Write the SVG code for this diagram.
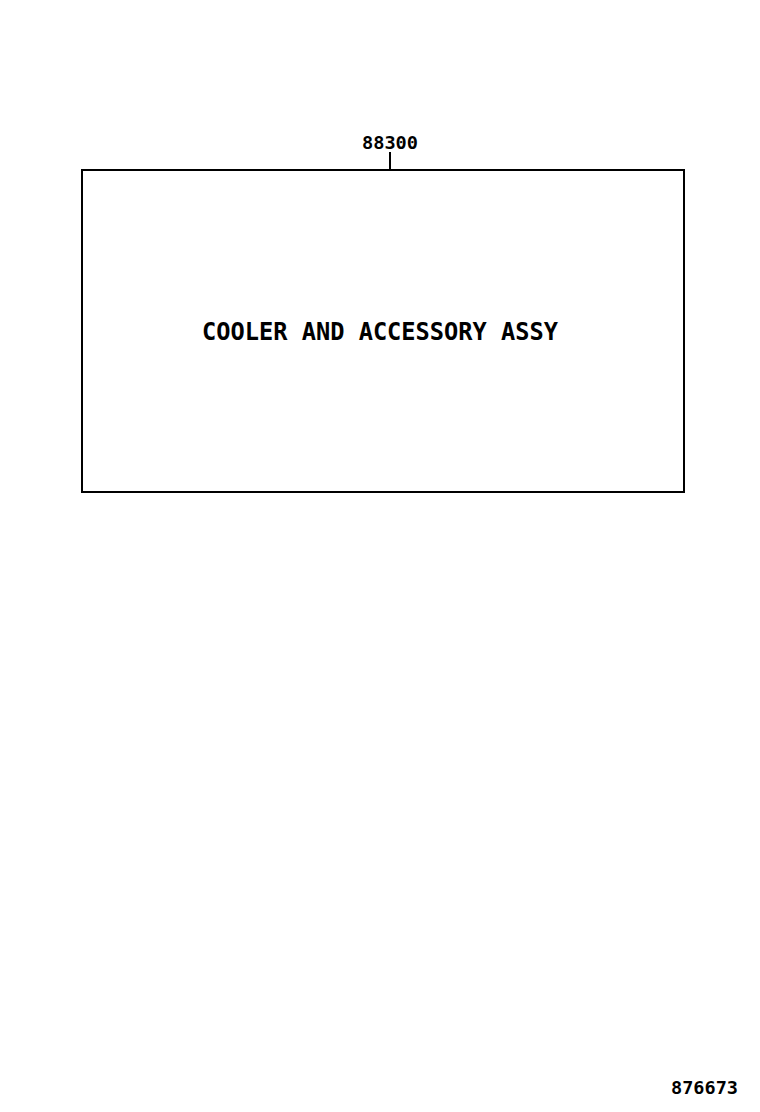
<svg xmlns="http://www.w3.org/2000/svg" width="760" height="1112" viewBox="0 0 760 1112">
<style>
.t{font-family:"DejaVu Sans Mono","Liberation Mono",monospace;font-weight:bold;fill:#000}
.l{stroke:#000;stroke-width:2;fill:none}
</style>
<rect width="760" height="1112" fill="#fff"/>
<g id="box">
<rect class="l" x="82" y="170" width="602" height="322"/>
<text class="t" x="202" y="340" font-size="24" textLength="356" lengthAdjust="spacingAndGlyphs">COOLER AND ACCESSORY ASSY</text>
</g>
<g id="connectors">
<line class="l" x1="390" y1="152" x2="390" y2="170"/>
</g>
<g id="label-88300">
<text class="t" x="362" y="149" font-size="17" textLength="56" lengthAdjust="spacingAndGlyphs">88300</text>
</g>
<g id="code">
<text class="t" x="671" y="1094" font-size="17" textLength="67" lengthAdjust="spacingAndGlyphs">876673</text>
</g>
</svg>
